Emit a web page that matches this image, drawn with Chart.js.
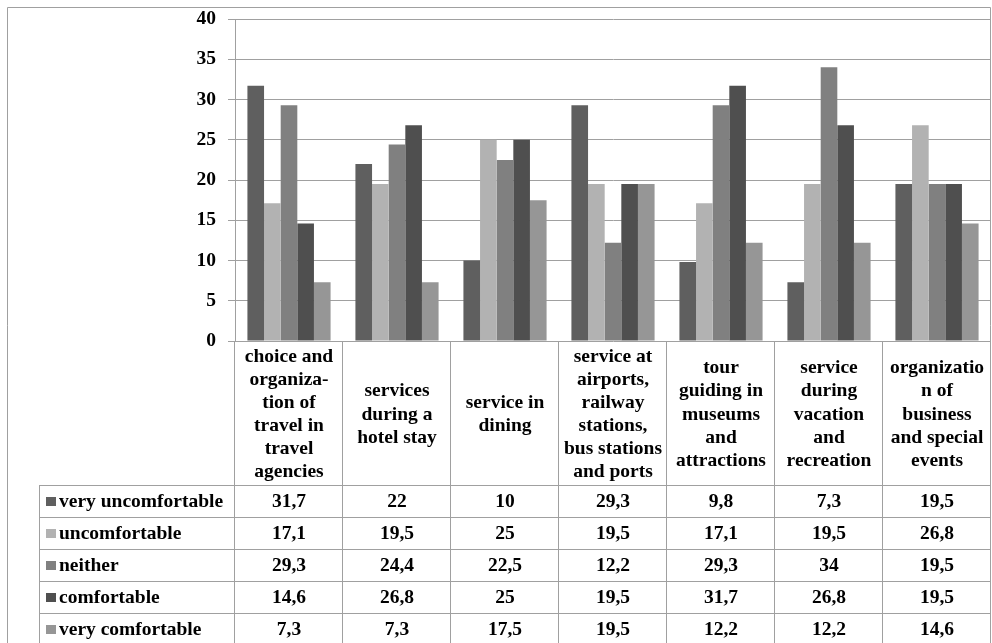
<!DOCTYPE html>
<html><head><meta charset="utf-8">
<script src="https://cdn.jsdelivr.net/npm/chart.js@4/dist/chart.umd.min.js"></script>
<style>html,body{margin:0;padding:0;background:#fff;overflow:hidden;} canvas{display:block;}</style>
</head><body>
<canvas id="c" width="992" height="643"></canvas>
<script>
// ---- data ----
const categories = [
  ["choice and","organiza-","tion of","travel in","travel","agencies"],
  ["services","during a","hotel stay"],
  ["service in","dining"],
  ["service at","airports,","railway","stations,","bus stations","and ports"],
  ["tour","guiding in","museums","and","attractions"],
  ["service","during","vacation","and","recreation"],
  ["organizatio","n of","business","and special","events"]
];
const seriesNames = ["very uncomfortable","uncomfortable","neither","comfortable","very comfortable"];
const veryUncomfortable = [31.7, 22, 10, 29.3, 9.8, 7.3, 19.5];
const uncomfortable     = [17.1, 19.5, 25, 19.5, 17.1, 19.5, 26.8];
const neither           = [29.3, 24.4, 22.5, 12.2, 29.3, 34, 19.5];
const comfortable       = [14.6, 26.8, 25, 19.5, 31.7, 26.8, 19.5];
const veryComfortable   = [7.3, 7.3, 17.5, 19.5, 12.2, 12.2, 14.6];
const yTickValues = [0, 5, 10, 15, 20, 25, 30, 35, 40];

// ---- styles ----
const seriesColors = ["#5f5f5f", "#b2b2b2", "#808080", "#4f4f4f", "#969696"];
const lineColor = "#a0a0a0";
const FAMILY = '"Liberation Serif", "Times New Roman", serif';
const FONT = 'bold 19.5px ' + FAMILY;

const seriesData = [veryUncomfortable, uncomfortable, neither, comfortable, veryComfortable];
const fmt = v => String(v).replace('.', ',');

const tablePlugin = {
  id: 'dataTable',
  afterDraw(chart) {
    const ctx = chart.ctx, ca = chart.chartArea, xs = chart.scales.x;
    const n = categories.length;
    const centers = categories.map((_, i) => xs.getPixelForValue(i));
    const half = (centers.length > 1 ? (centers[1] - centers[0]) : ca.width) / 2;
    const bounds = centers.map(c => c - half).concat([centers[n - 1] + half]);
    const tableTop = 486, rowH = 32, tableLeft = 39;
    const H = chart.height;
    ctx.save();
    ctx.strokeStyle = lineColor;
    ctx.lineWidth = 1;
    // outer border
    ctx.beginPath();
    ctx.moveTo(7.5, H + 5); ctx.lineTo(7.5, 7.5); ctx.lineTo(990.5, 7.5); ctx.lineTo(990.5, H + 5);
    ctx.stroke();
    ctx.beginPath();
    // vertical category boundaries
    bounds.forEach(b => {
      const x = Math.round(b) - 0.5;
      ctx.moveTo(x, Math.round(ca.bottom)); ctx.lineTo(x, H + 5);
    });
    // table left edge
    ctx.moveTo(tableLeft + 0.5, tableTop); ctx.lineTo(tableLeft + 0.5, H + 5);
    // row lines
    for (let r = 0; r < seriesNames.length; r++) {
      const y = Math.round(tableTop + r * rowH) - 0.5;
      ctx.moveTo(tableLeft, y); ctx.lineTo(bounds[n], y);
    }
    ctx.stroke();
    // category labels
    ctx.fillStyle = '#000';
    ctx.font = FONT;
    ctx.textAlign = 'center';
    ctx.textBaseline = 'middle';
    const lh = 23.1;
    const hdrMid = (ca.bottom + tableTop) / 2 + 1;
    categories.forEach((lines, i) => {
      const y0 = hdrMid - (lines.length - 1) * lh / 2;
      lines.forEach((t, k) => ctx.fillText(t, centers[i], y0 + k * lh));
    });
    // rows
    seriesNames.forEach((name, r) => {
      const yMid = tableTop + r * rowH + rowH / 2;
      ctx.fillStyle = seriesColors[r];
      ctx.fillRect(46, Math.round(yMid - 5), 10, 9);
      ctx.fillStyle = '#000';
      ctx.textAlign = 'left';
      ctx.fillText(name, 59, yMid);
      ctx.textAlign = 'center';
      seriesData[r].forEach((v, i) => ctx.fillText(fmt(v), centers[i], yMid));
    });
    ctx.restore();
  }
};

new Chart(document.getElementById('c'), {
  type: 'bar',
  data: {
    labels: categories.map(l => l.join(' ')),
    datasets: seriesNames.map((name, i) => ({
      label: name,
      data: seriesData[i],
      backgroundColor: seriesColors[i],
      borderWidth: 0,
      categoryPercentage: 0.77,
      barPercentage: 1.0
    }))
  },
  options: {
    responsive: false,
    animation: false,
    devicePixelRatio: 1,
    layout: { padding: { left: 0, top: 19, right: 1, bottom: 302 } },
    plugins: { legend: { display: false }, tooltip: { enabled: false } },
    scales: {
      x: { display: false },
      y: {
        min: 0, max: 40,
        afterFit(scale) { scale.width = 235; scale.paddingTop = 0; scale.paddingBottom = 0; },
        afterBuildTicks(scale) { scale.ticks = yTickValues.map(v => ({ value: v })); },
        ticks: { color: '#000', font: { family: FAMILY, size: 19.5, weight: 'bold' }, padding: 12 },
        grid: { color: lineColor, lineWidth: 1, tickLength: 7, drawTicks: true },
        border: { display: true, color: lineColor, width: 1 }
      }
    }
  },
  plugins: [tablePlugin]
});
</script>
</body></html>
